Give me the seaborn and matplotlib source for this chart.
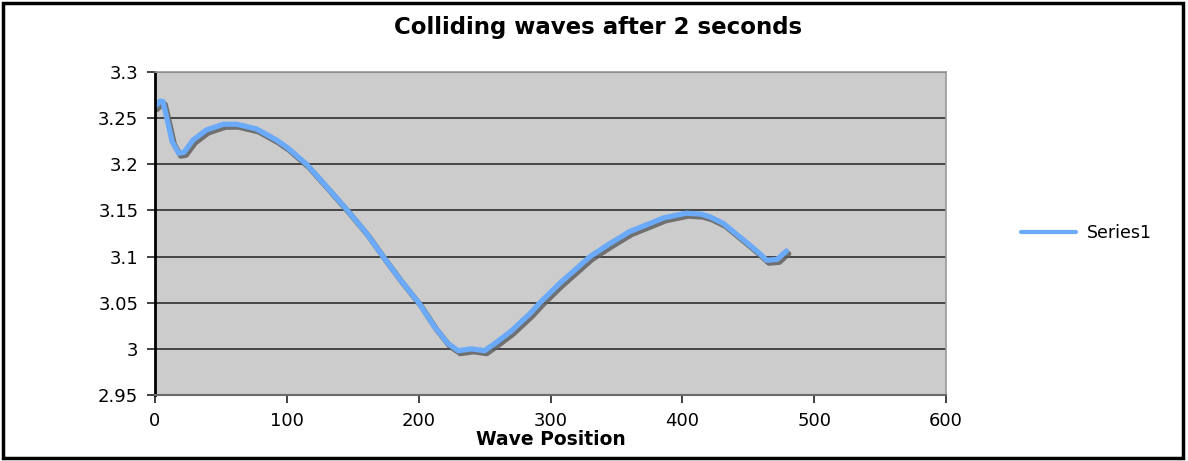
import matplotlib
matplotlib.use("Agg")
import matplotlib.pyplot as plt
import matplotlib.patheffects as pe
from matplotlib.patches import Rectangle
import seaborn as sns
import pandas as pd

wave_position = [0, 4, 6, 9, 13, 18, 22, 29, 39, 52, 62, 77, 92, 100, 115,
                 130, 146, 160, 173, 186, 200, 212, 222, 230, 240, 250, 258, 270,
                 285, 292, 307, 330, 345, 360, 386, 403, 414, 421, 431, 449, 458,
                 464, 472, 479]
series1 = [3.2625, 3.2686, 3.268, 3.25, 3.2246, 3.212, 3.213, 3.2264, 3.2372,
           3.2434, 3.2434, 3.2383, 3.2264, 3.2185, 3.200, 3.176, 3.150,
           3.126, 3.100, 3.075, 3.050, 3.024, 3.006, 2.998, 3.000, 2.998, 3.006,
           3.019, 3.039, 3.050, 3.071, 3.100, 3.114, 3.127, 3.142, 3.147, 3.146,
           3.143, 3.136, 3.115, 3.104, 3.096, 3.097, 3.106]
x_ticks = [0, 100, 200, 300, 400, 500, 600]
y_ticks = [2.95, 3.0, 3.05, 3.1, 3.15, 3.2, 3.25, 3.3]
y_labels = ["2.95", "3", "3.05", "3.1", "3.15", "3.2", "3.25", "3.3"]

df = pd.DataFrame({"Wave Position": wave_position, "Series1": series1})

sns.set_style("white")
plt.rcParams["font.family"] = ["DejaVu Sans"]
plt.rcParams["text.color"] = "black"
plt.rcParams["axes.labelcolor"] = "black"

fig = plt.figure(figsize=(11.88, 4.61), dpi=100)
ax = fig.add_axes([155 / 1188, 66 / 461, 791 / 1188, 323 / 461])
ax.set_facecolor("#CCCCCC")

sns.lineplot(data=df, x="Wave Position", y="Series1", ax=ax, color="#6AAAF8",
             linewidth=3.8, label="Series1", sort=False)
for ln in ax.lines:
    ln.set_solid_joinstyle("round")
    ln.set_solid_capstyle("round")
    ln.set_path_effects([pe.SimpleLineShadow(offset=(1.5, -2), shadow_color="#606060", alpha=0.85, linewidth=4),
                         pe.Normal()])

ax.set_xlim(0, 600)
ax.set_ylim(2.95, 3.3)
ax.set_xticks(x_ticks)
ax.set_yticks(y_ticks)
ax.set_yticklabels(y_labels)
ax.yaxis.grid(True, color="#3A3A3A", linewidth=1.3)
ax.xaxis.grid(False)
ax.set_axisbelow(True)

for s in ["top", "right"]:
    ax.spines[s].set_color("#9A9A9A")
    ax.spines[s].set_linewidth(1.2)
ax.spines["left"].set_color("black")
ax.spines["left"].set_linewidth(2)
ax.spines["bottom"].set_color("#6A6A6A")
ax.spines["bottom"].set_linewidth(1.5)

ax.tick_params(axis="both", direction="out", length=6, width=1.3, color="#333333",
               labelsize=13, labelcolor="black", pad=4)
ax.tick_params(axis="y", left=True, pad=6)
ax.tick_params(axis="x", bottom=True, pad=6)

ax.set_xlabel("Wave Position", fontsize=13.5, fontweight="bold", labelpad=0,
              color="black")
ax.set_ylabel("")
fig.suptitle("Colliding waves after 2 seconds", x=0.503, y=0.965, fontsize=16.5,
             fontweight="bold", color="black")

ax.legend(loc="center left", bbox_to_anchor=(1005 / 1188, 1 - 233 / 461),
          bbox_transform=fig.transFigure, frameon=False, fontsize=12.5,
          handlelength=3.2, handletextpad=0.6)
leg = ax.get_legend()
for h in leg.get_lines():
    h.set_path_effects([])
    h.set_linewidth(3)
for t in leg.get_texts():
    t.set_color("black")

fig.patches.append(Rectangle((3 / 1188, 3 / 461), 1180 / 1188, 455 / 461,
                             transform=fig.transFigure, fill=False,
                             edgecolor="black", linewidth=2.5))

fig.savefig("out.png", dpi=100)
